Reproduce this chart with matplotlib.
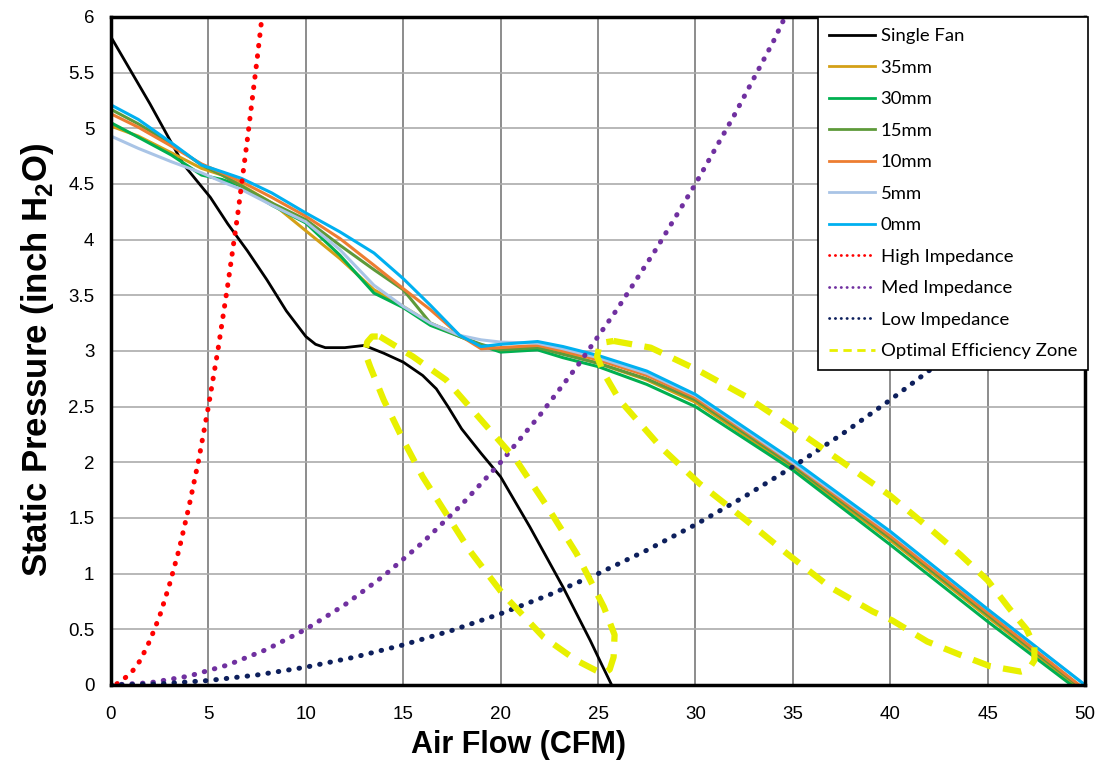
import matplotlib
matplotlib.use("Agg")
import matplotlib.pyplot as plt
from matplotlib.ticker import MultipleLocator, FuncFormatter

# Single fan curve
fan_x = [0, 2, 3.7, 5.1, 6, 7, 8, 9, 10, 10.5, 11, 12, 13, 14, 15, 16, 16.7, 17.3, 18, 19, 20, 21.5, 23.2, 24.6, 25.2, 25.7]
fan_y = [5.82, 5.22, 4.68, 4.38, 4.14, 3.9, 3.64, 3.36, 3.13, 3.06, 3.03, 3.03, 3.05, 2.98, 2.9, 2.78, 2.66, 2.5, 2.3, 2.08, 1.87, 1.42, 0.88, 0.4, 0.18, 0.0]

# Dual fan curves at different spacings
sp_x = [0, 1.4, 3.1, 4.65, 5.7, 6.7, 8.25, 10, 11.75, 13.5, 15, 16.4, 17.9, 19, 20, 21.9, 23.2, 25, 27.5, 30, 35, 40, 45]
mm35_y = [5.02, 4.93, 4.78, 4.64, 4.58, 4.49, 4.33, 4.08, 3.83, 3.55, 3.40, 3.25, 3.14, 3.05, 3.02, 3.04, 2.98, 2.89, 2.74, 2.54, 1.95, 1.30, 0.61]
mm30_y = [5.05, 4.92, 4.76, 4.58, 4.54, 4.48, 4.31, 4.15, 3.86, 3.52, 3.39, 3.23, 3.13, 3.05, 2.99, 3.01, 2.94, 2.86, 2.70, 2.50, 1.93, 1.26, 0.57]
mm15_y = [5.17, 5.04, 4.86, 4.67, 4.58, 4.48, 4.33, 4.18, 3.95, 3.73, 3.55, 3.25, 3.13, 3.06, 3.01, 3.03, 2.97, 2.89, 2.75, 2.56, 1.97, 1.32, 0.63]
mm10_y = [5.13, 5.01, 4.84, 4.68, 4.60, 4.52, 4.38, 4.21, 4.01, 3.77, 3.56, 3.37, 3.14, 3.02, 3.03, 3.05, 3.00, 2.92, 2.78, 2.58, 1.99, 1.34, 0.65]
mm5_y = [4.93, 4.82, 4.70, 4.60, 4.52, 4.45, 4.31, 4.16, 3.91, 3.59, 3.40, 3.25, 3.14, 3.10, 3.08, 3.07, 3.02, 2.94, 2.80, 2.60, 2.00, 1.37, 0.68]
mm0_y = [5.21, 5.08, 4.87, 4.67, 4.61, 4.55, 4.42, 4.24, 4.07, 3.88, 3.65, 3.41, 3.14, 3.04, 3.06, 3.085, 3.04, 2.96, 2.82, 2.61, 2.02, 1.38, 0.68]
end_x = {"35mm": 49.5, "30mm": 49.3, "15mm": 49.6, "10mm": 49.7, "5mm": 50.0, "0mm": 50.0}

# System impedance curves
high_x = [0.3, 1, 1.5, 2, 2.5, 3, 3.5, 4, 4.5, 5, 5.5, 6, 6.5, 7, 7.5, 7.75]
high_y = [0.01, 0.1, 0.22, 0.4, 0.62, 0.9, 1.22, 1.6, 2.02, 2.5, 3.02, 3.6, 4.22, 4.9, 5.62, 6.0]
med_x = [0, 2, 4, 6, 8, 10, 12, 14, 16, 18, 20, 22, 24, 26, 28, 30, 32, 34, 34.6]
med_y = [0, 0.02, 0.08, 0.18, 0.32, 0.5, 0.72, 0.98, 1.28, 1.62, 2.0, 2.42, 2.88, 3.38, 3.92, 4.5, 5.12, 5.78, 6.0]
low_x = [0, 2.5, 5, 7.5, 10, 12.5, 15, 17.5, 20, 22.5, 25, 27.5, 30, 32.5, 35, 37.5, 40, 42.5, 45, 47.5, 50]
low_y = [0, 0.01, 0.04, 0.09, 0.16, 0.25, 0.36, 0.49, 0.64, 0.81, 1.0, 1.21, 1.44, 1.69, 1.96, 2.25, 2.56, 2.89, 3.24, 3.61, 4.0]

# Optimal efficiency zones (closed loops)
zone1_x = [13.8, 15.5, 17.2, 19.3, 20.8, 22.4, 23.9, 25.3, 25.85, 25.8, 25.6, 25.3, 24.9, 23.9, 22.2, 20.1, 18.4,
           17.2, 16.0, 15.0, 14.0, 13.3, 13.05, 13.15, 13.4, 13.8]
zone1_y = [3.13, 2.95, 2.74, 2.32, 2.02, 1.6, 1.18, 0.7, 0.45, 0.25, 0.14, 0.1, 0.13, 0.22, 0.43, 0.82, 1.21,
           1.54, 1.87, 2.2, 2.56, 2.86, 2.98, 3.08, 3.13, 3.13]
zone2_x = [25.8, 27.7, 30.1, 32.6, 35.0, 37.4, 40.0, 42.2, 43.6, 45.0, 46.1, 47.0, 47.4, 47.4, 47.1, 46.7, 45.1,
           43.6, 41.9, 40.1, 39.1, 36.9, 34.7, 32.6, 30.2, 28.2, 26.1, 25.3, 24.95, 25.1, 25.8]
zone2_y = [3.09, 3.03, 2.83, 2.59, 2.31, 2.02, 1.7, 1.38, 1.17, 0.94, 0.69, 0.5, 0.35, 0.22, 0.14, 0.12, 0.17,
           0.27, 0.39, 0.58, 0.66, 0.88, 1.18, 1.48, 1.81, 2.14, 2.56, 2.8, 2.95, 3.07, 3.09]

plt.rcParams["font.family"] = ["Liberation Sans", "DejaVu Sans"]
plt.rcParams["mathtext.fontset"] = "custom"
plt.rcParams["mathtext.rm"] = "Liberation Sans"
plt.rcParams["mathtext.bf"] = "Liberation Sans:bold"

fig = plt.figure(figsize=(10.99, 7.65), dpi=100)
ax = fig.add_axes([0.101, 0.1046, 0.8863, 0.8732])

ax.plot(fan_x, fan_y, color="black", lw=2.0, label="Single Fan")
series = [("35mm", mm35_y, "#D4A017"), ("30mm", mm30_y, "#00B050"), ("15mm", mm15_y, "#5E9A3A"),
          ("10mm", mm10_y, "#ED7D31"), ("5mm", mm5_y, "#A9C4E6"), ("0mm", mm0_y, "#00B0F0")]
for name, ys, c in series:
    ax.plot(sp_x + [end_x[name]], ys + [0.0], color=c, lw=2.2, label=name)

dot = (0, (0.1, 2.0))
ax.plot(high_x, high_y, color="#FF0000", lw=3.6, ls=dot, dash_capstyle="round", label="High Impedance")
ax.plot(med_x, med_y, color="#7030A0", lw=3.6, ls=dot, dash_capstyle="round", label="Med Impedance")
ax.plot(low_x, low_y, color="#0D1F5C", lw=3.6, ls=dot, dash_capstyle="round", label="Low Impedance")

ax.plot(zone1_x, zone1_y, color="#E8F000", lw=4.5, ls=(0, (3, 2)), label="Optimal Efficiency Zone")
ax.plot(zone2_x, zone2_y, color="#E8F000", lw=4.5, ls=(0, (3, 2)))

ax.set_xlim(0, 50)
ax.set_ylim(0, 6)
ax.xaxis.set_major_locator(MultipleLocator(5))
ax.yaxis.set_major_locator(MultipleLocator(0.5))
ax.yaxis.set_major_formatter(FuncFormatter(lambda v, p: "%g" % v))
ax.tick_params(length=0, labelsize=13.5)
ax.tick_params(axis="x", pad=15)
ax.tick_params(axis="y", pad=12)

ax.grid(axis="y", color="#ababab", lw=1.2)
ax.grid(axis="x", color="#6e6e6e", lw=1.1)
ax.set_axisbelow(True)
for s in ax.spines.values():
    s.set_linewidth(2.5)
    s.set_color("black")

ax.set_xlabel("Air Flow (CFM)", fontsize=22, fontweight="bold", va="center")
ax.set_ylabel(r"Static Pressure (inch H$_\mathbf{2}$O)", fontsize=25, fontweight="bold", va="center")
ax.xaxis.set_label_coords(0.418, -0.09)
ax.yaxis.set_label_coords(-0.075, 0.487)

leg = ax.legend(loc="upper right", bbox_to_anchor=(1.003, 1.0), borderaxespad=0, fancybox=False,
                framealpha=1, edgecolor="black", handlelength=2.5, handletextpad=0.3,
                labelspacing=0.84, borderpad=0.6,
                prop={"family": ["Lato", "DejaVu Sans"], "size": 13.3})
leg.get_frame().set_linewidth(1.2)
for h in leg.get_lines():
    h.set_linewidth(2.0)

fig.savefig("out.png", dpi=100)
